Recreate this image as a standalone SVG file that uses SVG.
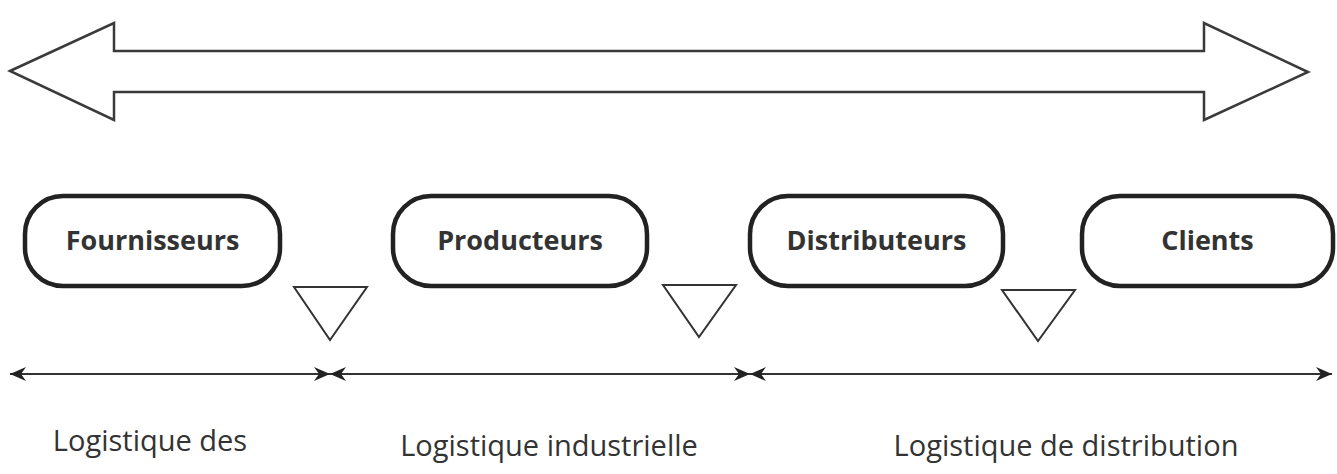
<svg xmlns="http://www.w3.org/2000/svg" width="1337" height="474" viewBox="0 0 1337 474">
<defs>
<style>
.big{fill:#fff;stroke:#3a3a3a;stroke-width:2.5;stroke-linejoin:miter}
.box{fill:#fff;stroke:#222;stroke-width:4.5}
.bl{font-family:"Open Sans","Liberation Sans",sans-serif;font-weight:bold;font-size:27px;fill:#333;text-anchor:middle}
.tri{fill:#fff;stroke:#333;stroke-width:2}
.ln{stroke:#333;stroke-width:2.2;fill:none}
.lab{font-family:"Open Sans","Liberation Sans",sans-serif;font-size:29px;fill:#333;text-anchor:middle}
</style>
<marker id="ah" viewBox="0 0 16 14" refX="16" refY="7" markerWidth="16" markerHeight="14" markerUnits="userSpaceOnUse" orient="auto-start-reverse">
<path d="M0,0 L16,7 L0,14 L5,7 Z" fill="#222"/>
</marker>
</defs>
<g id="bigarrow">
<path class="big" d="M10,71 L114,23 L114,51 L1204,51 L1204,23 L1308,72 L1204,120 L1204,92 L114,92 L114,120 Z"/>
</g>
<g id="fournisseurs">
<rect class="box" x="25" y="196" width="255" height="90" rx="38"/>
<text class="bl" x="152.5" y="250">Fournisseurs</text>
</g>
<g id="producteurs">
<rect class="box" x="393" y="196" width="254" height="90" rx="38"/>
<text class="bl" x="520" y="250">Producteurs</text>
</g>
<g id="distributeurs">
<rect class="box" x="750" y="196" width="253" height="90" rx="38"/>
<text class="bl" x="876.5" y="250">Distributeurs</text>
</g>
<g id="clients">
<rect class="box" x="1082" y="196" width="251" height="90" rx="38"/>
<text class="bl" x="1207.5" y="250">Clients</text>
</g>
<g id="triangles">
<path class="tri" d="M294,287 L367,287 L330,340 Z"/>
<path class="tri" d="M663,285 L736,285 L699,337 Z"/>
<path class="tri" d="M1002,290 L1075,290 L1038,341 Z"/>
</g>
<g id="connectors">
<line class="ln" x1="10" y1="374" x2="330" y2="374" marker-start="url(#ah)" marker-end="url(#ah)"/>
<line class="ln" x1="330" y1="374" x2="750" y2="374" marker-start="url(#ah)" marker-end="url(#ah)"/>
<line class="ln" x1="750" y1="374" x2="1332" y2="374" marker-start="url(#ah)" marker-end="url(#ah)"/>
</g>
<g id="labels">
<text class="lab" x="150" y="451">Logistique des</text>
<text class="lab" x="549" y="456">Logistique industrielle</text>
<text class="lab" x="1066" y="456">Logistique de distribution</text>
</g>
</svg>
